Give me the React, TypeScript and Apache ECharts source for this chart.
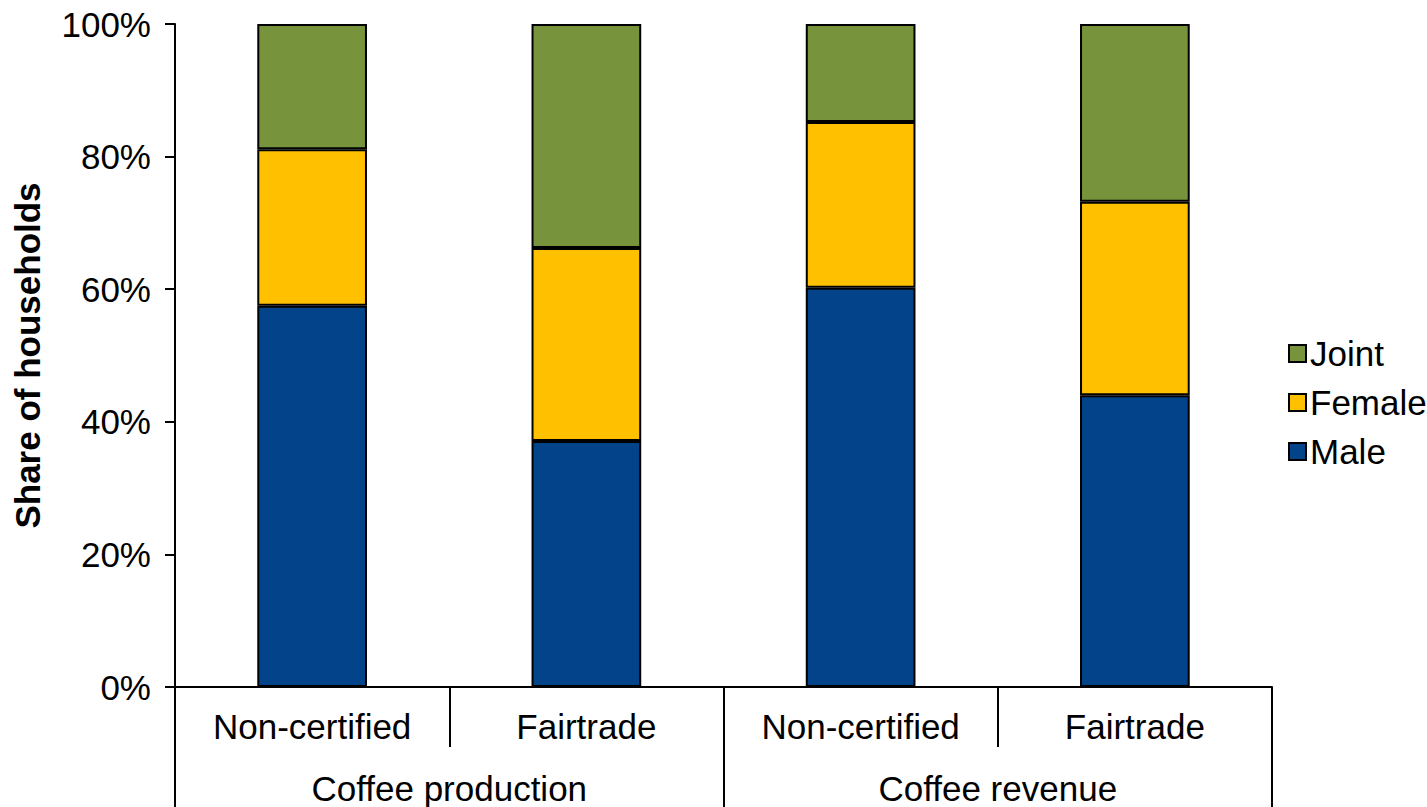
import React, { useEffect, useRef } from "react";
import * as echarts from "echarts";

const categories = ["Non-certified", "Fairtrade", "Non-certified", "Fairtrade"];
const groups = ["Coffee production", "Coffee revenue"];
const male = [57.5, 37.1, 60.2, 44.0];
const female = [23.6, 29.1, 25.0, 29.2];
const joint = [18.9, 33.8, 14.8, 26.8];
const yTicks = [0, 20, 40, 60, 80, 100];

const FONT = "'Liberation Sans', Arial, sans-serif";
const FS = 35;

export default function App() {
  const ref = useRef<HTMLDivElement>(null);
  useEffect(() => {
    if (!ref.current) return;
    const chart = echarts.init(ref.current, null, { renderer: "svg" });
    const bar = (name: string, data: number[], color: string) => ({
      name,
      type: "bar",
      stack: "total",
      data,
      barWidth: "40%",
      itemStyle: { color, borderColor: "#000", borderWidth: 2 },
      emphasis: { disabled: true },
    });
    chart.setOption({
      animation: false,
      textStyle: { fontFamily: FONT },
      grid: { left: 175, top: 24, right: 155, bottom: 120, containLabel: false },
      legend: {
        orient: "vertical",
        left: 1283,
        top: 331,
        data: ["Joint", "Female", "Male"],
        icon: "rect",
        itemWidth: 17,
        itemHeight: 17,
        itemGap: 14,
        itemStyle: { borderColor: "#000", borderWidth: 2 },
        textStyle: { fontSize: FS, color: "#000", fontFamily: FONT, padding: [0, 0, 0, -1] },
        selectedMode: false,
      },
      xAxis: [
        {
          type: "category",
          data: categories,
          position: "bottom",
          axisLine: { show: true, lineStyle: { color: "#000", width: 2 } },
          axisTick: { show: true, length: 60, lineStyle: { color: "#000", width: 2 } },
          axisLabel: { fontSize: FS, color: "#000", margin: 22, fontFamily: FONT },
        },
        {
          type: "category",
          data: groups,
          position: "bottom",
          axisLine: { show: false },
          axisTick: { show: true, length: 125, lineStyle: { color: "#000", width: 2 } },
          axisLabel: { fontSize: FS, color: "#000", margin: 84, fontFamily: FONT },
        },
      ],
      yAxis: {
        type: "value",
        min: yTicks[0],
        max: yTicks[yTicks.length - 1],
        interval: 20,
        name: "Share of households",
        nameLocation: "middle",
        nameGap: 130,
        nameTextStyle: { fontSize: FS, fontWeight: "bold", color: "#000", fontFamily: FONT },
        axisLine: { show: true, lineStyle: { color: "#000", width: 2 } },
        axisTick: { show: true, length: 10, lineStyle: { color: "#000", width: 2 } },
        axisLabel: { fontSize: FS, color: "#000", margin: 24, formatter: "{value}%", fontFamily: FONT },
        splitLine: { show: false },
      },
      series: [
        bar("Male", male, "#024389"),
        bar("Female", female, "#FFC000"),
        bar("Joint", joint, "#77933C"),
      ],
    });
    return () => chart.dispose();
  }, []);
  return <div ref={ref} style={{ width: 1427, height: 807, position: "absolute", left: 0, top: 0 }} />;
}
